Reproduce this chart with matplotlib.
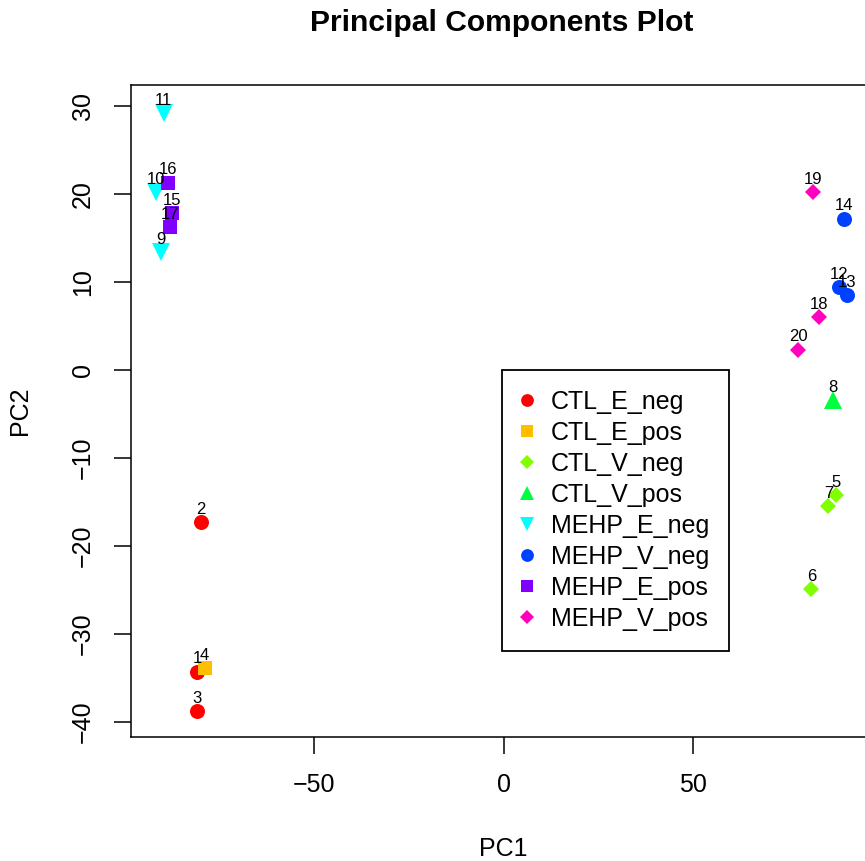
import matplotlib
matplotlib.use("Agg")
import matplotlib.pyplot as plt

plt.rcParams['font.family'] = ['Liberation Sans', 'DejaVu Sans']

# PCA scores, sample order 1..20
sample_ids = [str(i) for i in range(1, 21)]
pc1 = [-80.8, -79.9, -81.0, -78.9, 87.8, 81.2, 85.7, 86.8, -90.5, -91.8,
       -89.7, 88.4, 90.7, 89.7, -87.6, -88.6, -88.1, 83.3, 81.7, 77.8]
pc2 = [-34.3, -17.3, -38.8, -33.9, -14.2, -24.9, -15.5, -3.4, 13.4, 20.2,
       29.2, 9.4, 8.5, 17.2, 17.8, 21.3, 16.2, 6.0, 20.2, 2.3]
groups = ['CTL_E_neg', 'CTL_E_neg', 'CTL_E_neg', 'CTL_E_pos',
          'CTL_V_neg', 'CTL_V_neg', 'CTL_V_neg', 'CTL_V_pos',
          'MEHP_E_neg', 'MEHP_E_neg', 'MEHP_E_neg',
          'MEHP_V_neg', 'MEHP_V_neg', 'MEHP_V_neg',
          'MEHP_E_pos', 'MEHP_E_pos', 'MEHP_E_pos',
          'MEHP_V_pos', 'MEHP_V_pos', 'MEHP_V_pos']
group_order = ['CTL_E_neg', 'CTL_E_pos', 'CTL_V_neg', 'CTL_V_pos',
               'MEHP_E_neg', 'MEHP_V_neg', 'MEHP_E_pos', 'MEHP_V_pos']

# rainbow(8) from R
colors = ['#FF0000', '#FFBF00', '#80FF00', '#00FF40',
          '#00FFFF', '#0040FF', '#8000FF', '#FF00BF']
markers = ['o', 's', 'D', '^', 'v', 'o', 's', 'D']
msizes = [10.8, 9.4, 8.6, 12.5, 12.5, 10.8, 9.4, 8.6]

W, H = 865, 861
fig = plt.figure(figsize=(W / 100, H / 100), dpi=100)
# axes placed in pixel coords (right edge runs past the canvas like the original)
left, top, right, bottom = 131, 85, 875, 736.7
ax = fig.add_axes([left / W, 1 - bottom / H, (right - left) / W, (bottom - top) / H])

handles = []
for g, c, m, ms in zip(group_order, colors, markers, msizes):
    xs = [x for x, gg in zip(pc1, groups) if gg == g]
    ys = [y for y, gg in zip(pc2, groups) if gg == g]
    h, = ax.plot(xs, ys, linestyle='none', marker=m, color=c, markersize=ms,
                 markeredgewidth=0, label=g)
    handles.append(h)

for sid, x, y in zip(sample_ids, pc1, pc2):
    ax.annotate(sid, (x, y), xytext=(0, 6), textcoords='offset points',
                ha='center', va='baseline', fontsize=12, color='black')

ax.set_xlim(-98.3, 98.0)
ax.set_ylim(-41.7, 32.4)
ax.set_xticks([-50, 0, 50])
ax.set_yticks([-40, -30, -20, -10, 0, 10, 20, 30])
ax.tick_params(axis='both', direction='out', length=12, width=1.1,
               labelsize=18, pad=14)
for lab in ax.get_yticklabels():
    lab.set_rotation(90)
    lab.set_va('center')
for sp in ax.spines.values():
    sp.set_linewidth(1.1)

ax.set_xlabel('PC1', fontsize=18, labelpad=29)
ax.set_ylabel('PC2', fontsize=18, labelpad=28)
fig.text(502 / W, 1 - 23 / H, 'Principal Components Plot', ha='center', va='center',
         fontsize=21.6, fontweight='bold')

leg = ax.legend(handles=handles, loc='upper left',
                bbox_to_anchor=(502 / W, 1 - 370 / H), bbox_transform=fig.transFigure,
                fontsize=18, frameon=True, fancybox=False, framealpha=1,
                edgecolor='black', borderpad=0.8, labelspacing=0.28,
                handlelength=0.4, handletextpad=0.76, borderaxespad=0, markerscale=0.85)
leg.get_frame().set_linewidth(1.3)

fig.savefig('out.png', dpi=100)
